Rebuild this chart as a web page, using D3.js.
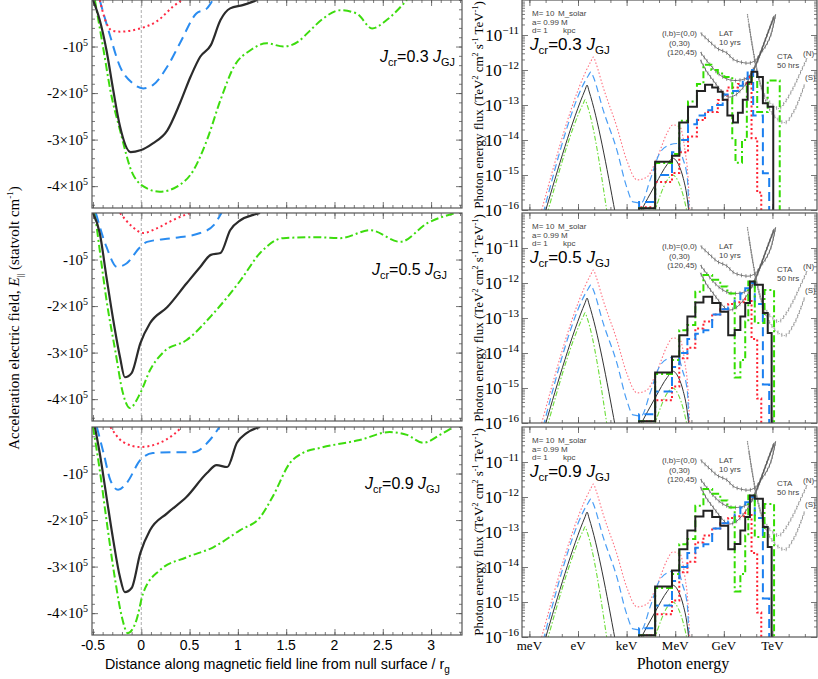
<!DOCTYPE html>
<html lang="en">
<head>
<meta charset="UTF-8">
<script src="https://cdn.jsdelivr.net/npm/d3@7"></script>
<title>E parallel and photon spectra</title>
<style>
  body { margin: 0; background: #fff; }
  svg { display: block; }
  .serif { font-family: "Liberation Serif", "DejaVu Serif", serif; }
  .sans { font-family: "Liberation Sans", "DejaVu Sans", sans-serif; }
</style>
</head>
<body>
<div id="fig"></div>
<script>
// ---------- left column: E_parallel (units of 1e5 statvolt/cm) vs distance / r_g ----------
const jcrValues = ["0.3", "0.5", "0.9"];

const eBlack03 = [[-0.5,0],[-0.43,-0.43],[-0.36,-1.08],[-0.29,-1.94],[-0.22,-2.72],[-0.11,-3.27],[-0.01,-3.23],[0.12,-3.08],[0.27,-2.8],[0.4,-2.22],[0.51,-1.65],[0.61,-1.22],[0.72,-0.97],[0.82,-0.43],[0.92,-0.18],[1.05,-0.11],[1.2,0]];
const eBlue03 = [[-0.43,0],[-0.33,-0.72],[-0.22,-1.43],[-0.09,-1.79],[0.02,-1.9],[0.12,-1.83],[0.27,-1.43],[0.4,-0.93],[0.57,-0.29],[0.68,-0.18],[0.74,0]];
const eRed03 = [[-0.43,0],[-0.36,-0.5],[-0.3,-0.66],[-0.22,-0.68],[-0.01,-0.61],[0.16,-0.46],[0.33,-0.14],[0.42,0]];
const eGreen03 = [[-0.48,0],[-0.39,-1.08],[-0.32,-1.94],[-0.22,-2.8],[-0.09,-3.73],[0.06,-4.05],[0.19,-4.12],[0.37,-4.01],[0.54,-3.66],[0.68,-3.01],[0.82,-2.15],[0.96,-1.43],[1.13,-1.08],[1.3,-0.93],[1.47,-1.0],[1.62,-0.9],[1.75,-0.65],[1.87,-0.42],[2.06,-0.22],[2.23,-0.29],[2.39,-0.61],[2.54,-0.43],[2.75,0]];

const eBlack05 = [[-0.5,0],[-0.43,-0.43],[-0.36,-1.38],[-0.29,-2.3],[-0.22,-3.1],[-0.17,-3.53],[-0.1,-3.44],[-0.01,-2.8],[0.09,-2.37],[0.27,-2.02],[0.47,-1.51],[0.61,-1.16],[0.72,-0.9],[0.82,-0.86],[0.92,-0.37],[1.03,-0.15],[1.16,-0.04],[1.23,0]];
const eBlue05 = [[-0.47,0],[-0.36,-0.73],[-0.25,-1.16],[-0.15,-1.08],[-0.01,-0.73],[0.06,-0.62],[0.33,-0.54],[0.61,-0.43],[0.75,-0.26],[0.83,0]];
const eRed05 = [[-0.22,0],[-0.09,-0.3],[0.02,-0.43],[0.16,-0.33],[0.33,-0.15],[0.5,0]];
const eGreen05 = [[-0.48,0],[-0.43,-0.8],[-0.36,-1.87],[-0.27,-2.95],[-0.19,-3.87],[-0.12,-4.19],[-0.01,-3.87],[0.09,-3.38],[0.23,-2.99],[0.47,-2.73],[0.75,-2.15],[1.03,-1.44],[1.23,-0.86],[1.47,-0.54],[1.82,-0.52],[2.06,-0.54],[2.37,-0.37],[2.68,-0.62],[2.96,-0.22],[3.25,0]];

const eBlack09 = [[-0.48,0],[-0.43,-0.56],[-0.36,-1.5],[-0.29,-2.43],[-0.22,-3.23],[-0.17,-3.55],[-0.1,-3.46],[-0.01,-2.71],[0.09,-2.22],[0.27,-1.85],[0.47,-1.5],[0.68,-0.99],[0.78,-0.82],[0.89,-0.86],[0.99,-0.34],[1.09,-0.13],[1.23,0]];
const eBlue09 = [[-0.46,0],[-0.39,-0.56],[-0.32,-1.14],[-0.24,-1.35],[-0.15,-1.2],[-0.01,-0.71],[0.12,-0.56],[0.33,-0.54],[0.54,-0.54],[0.71,-0.28],[0.81,0]];
const eRed09 = [[-0.32,0],[-0.19,-0.32],[-0.01,-0.43],[0.19,-0.34],[0.33,-0.17],[0.42,0]];
const eGreen09 = [[-0.5,0],[-0.43,-0.92],[-0.36,-2.0],[-0.27,-3.29],[-0.2,-4.09],[-0.14,-4.43],[-0.05,-4.15],[0.02,-3.57],[0.19,-3.08],[0.47,-2.8],[0.75,-2.58],[1.02,-2.22],[1.23,-1.94],[1.36,-1.5],[1.54,-0.77],[1.67,-0.56],[1.85,-0.45],[2.26,-0.28],[2.57,-0.11],[2.75,-0.17],[2.92,-0.34],[3.09,-0.17],[3.23,0]];

const distTicks = [-0.5, 0, 0.5, 1, 1.5, 2, 2.5, 3];
const distTickLabels = ["-0.5", "0", "0.5", "1", "1.5", "2", "2.5", "3"];
const eTicks = [-1, -2, -3, -4];

// ---------- right column: photon spectra, [log10 E/eV, log10 flux] ----------
const energyTicks = [-3, 0, 3, 6, 9, 12];
const energyLabels = ["meV", "eV", "keV", "MeV", "GeV", "TeV"];
const fluxDecades = [-16, -15, -14, -13, -12, -11];

// thin model curves (same in all three panels)
const redThin = [[-2.3,-16.1],[0.8,-11.75],[0.95,-11.63],[1.1,-11.8],[1.55,-12.49],[2.4,-13.63],[3.0,-14.57],[3.65,-15.14],[4.25,-15.06],[4.9,-14.49],[5.5,-13.8],[5.85,-13.57],[6.3,-13.63],[6.6,-14.29],[6.8,-15.14],[6.9,-16.1]];
const blueThin = [[-2.15,-16.1],[0.65,-12.15],[0.8,-12.05],[0.95,-12.2],[1.55,-13.14],[2.4,-14.29],[3.0,-15.34],[3.4,-15.77],[3.9,-15.8],[4.45,-15.14],[5.05,-14.37],[5.65,-14.14],[6.15,-14.1],[6.45,-14.5],[6.75,-15.1],[6.85,-16.1]];
const blackThinA = [[-2.05,-16.1],[0.45,-12.55],[0.56,-12.43],[0.68,-12.6],[2.3,-16.1]];
const blackThinB = [[3.8,-16.1],[4.8,-15.25],[5.5,-14.7],[5.85,-14.52],[6.2,-14.7],[6.5,-15.1],[6.72,-15.6],[6.85,-16.1]];
const greenThinA = [[-1.9,-16.1],[0.33,-12.95],[0.44,-12.85],[0.55,-12.98],[1.8,-16.1]];
const greenThinB = [[4.7,-16.1],[5.1,-15.55],[5.5,-15.15],[5.85,-15.0],[6.2,-15.2],[6.5,-15.6],[6.75,-16.1]];

// thick binned spectra: bin edges and bin values
const blackTopE = [3.77,4.76,5.8,6.25,6.79,7.34,7.84,8.28,8.63,8.93,9.22,9.57,9.87,10.17,10.47,10.71,11.06,11.41,11.71,12.05];
const blackTopF = [-15.95,-14.62,-14.45,-13.5,-13.05,-12.6,-12.42,-12.5,-12.62,-12.85,-13.3,-13.5,-13.22,-12.85,-12.35,-12.05,-12.2,-12.95,-13.05];
const greenTopE = [3.77,4.76,5.8,6.25,6.79,7.34,7.74,8.23,8.63,9.03,9.52,9.72,10.12,10.42,10.71,11.06,11.71,12.45];
const greenTopF = [-15.95,-14.66,-14.4,-13.45,-12.9,-12.4,-11.85,-12.0,-12.1,-12.2,-14.0,-14.65,-14.0,-12.4,-12.2,-13.2,-12.3];
const redTopE = [3.77,4.76,5.8,6.25,6.79,7.34,7.84,8.63,9.22,9.87,10.42,10.71,11.06,11.31];
const redTopF = [-15.92,-15.2,-14.94,-14.35,-13.9,-13.43,-13.2,-12.86,-12.5,-12.4,-12.2,-13.95,-15.5];
const blueTopE = [3.77,4.76,5.8,6.25,6.79,7.34,7.84,8.28,8.93,9.57,9.87,10.17,10.47,10.81,11.41,11.8];
const blueTopF = [-15.77,-15.0,-14.35,-14.0,-13.55,-13.3,-13.15,-13.0,-12.7,-12.6,-12.45,-12.25,-12.0,-13.3,-14.95];

const blackLowE = [3.77,4.76,5.8,6.25,6.75,7.24,7.74,8.28,8.78,9.27,9.67,10.02,10.32,10.61,10.91,11.41,11.71,11.95];
const blackLowF = [-15.95,-14.56,-14.1,-13.49,-12.96,-12.56,-12.39,-12.57,-12.82,-13.49,-13.34,-12.96,-12.57,-11.96,-12.05,-12.86,-13.43];
const greenLowE = [3.77,4.76,5.8,6.25,6.75,7.24,7.74,8.28,8.78,9.22,9.67,10.02,10.32,10.51,10.91,11.51,12.1];
const greenLowF = [-15.95,-14.6,-14.2,-13.35,-13.2,-12.25,-11.77,-11.91,-12.1,-12.3,-14.7,-14.2,-13.1,-11.96,-13.14,-12.2];
const redLowE = [3.77,4.76,5.8,6.25,6.75,7.24,7.74,8.28,8.78,9.27,9.67,10.32,10.71,11.06,11.31];
const redLowF = [-15.95,-15.35,-14.96,-14.15,-13.85,-13.3,-13.1,-12.9,-12.75,-12.6,-12.55,-12.45,-13.6,-15.3];
const blueLowE = [3.77,4.76,5.8,6.25,6.75,7.24,7.74,8.28,8.78,9.27,9.67,10.02,10.32,10.61,10.91,11.41,11.8];
const blueLowF = [-15.75,-15.1,-14.4,-14.0,-13.6,-13.45,-13.35,-12.9,-12.75,-12.7,-12.5,-12.3,-12.15,-12.0,-12.6,-14.9];

// sensitivity curves
const lat00 = [[7.55,-10.94],[8.15,-11.2],[8.65,-11.4],[9.15,-11.5],[9.6,-11.7],[10.1,-11.78],[10.6,-11.8],[11.0,-11.7],[11.3,-11.5],[11.6,-11.3],[11.9,-11.0],[12.2,-10.4]];
const lat030 = [[7.55,-11.49],[8.15,-11.85],[8.65,-12.1],[9.15,-12.25],[9.6,-12.3],[10.1,-12.28],[10.5,-12.2],[10.9,-11.9],[11.3,-11.45],[11.7,-10.95],[12.1,-10.45]];
const lat12045 = [[7.55,-11.71],[7.95,-12.05],[8.35,-12.3],[8.85,-12.6],[9.25,-12.77],[9.7,-12.72],[10.1,-12.55],[10.5,-12.3],[11.0,-11.85],[11.4,-11.35],[11.8,-10.85],[12.1,-10.5]];
const ctaN = [[10.45,-10.4],[10.8,-11.4],[11.1,-12.1],[11.5,-12.7],[12.0,-13.0],[12.4,-13.1],[12.8,-12.9],[13.3,-12.5],[13.8,-12.0],[14.15,-11.65]];
const ctaS = [[10.55,-10.7],[10.9,-11.7],[11.3,-12.5],[11.8,-13.1],[12.3,-13.4],[12.8,-13.5],[13.3,-13.2],[13.6,-12.9],[14.0,-12.4]];

// ---------------------------------------------------------------------------------------
const svg = d3.select("#fig").append("svg").attr("width", 818).attr("height", 679);

const xL = d3.scaleLinear().domain([-0.51, 3.32]).range([92, 462]);
const xR = d3.scaleLog().domain([10 ** -3.457, 10 ** 14.75]).range([522, 817]);

const frameColor = "#555";

const addTicks = (g, axis, tr) => {
    g.append("g").attr("transform", tr).call(axis)
        .call(s => s.select(".domain").remove())
        .call(s => s.selectAll("line").attr("stroke", frameColor).attr("stroke-width", 0.8));
};

// text with a raised/lowered part
const richText = (g, x, y, parts, opts) => {
    const t = g.append("text").attr("x", x).attr("y", y)
        .attr("class", opts.cls).attr("font-size", opts.size)
        .attr("text-anchor", opts.anchor || "start").attr("fill", opts.fill || "#000");
    if (opts.rotate) t.attr("transform", `rotate(${opts.rotate},${x},${y})`);
    let shift = 0;
    parts.forEach(p => {
        const s = t.append("tspan").text(p.t);
        const want = p.dy || 0;
        if (want !== shift) { s.attr("dy", want - shift); shift = want; }
        if (p.size) s.attr("font-size", p.size);
        if (p.italic) s.attr("font-style", "italic");
    });
    return t;
};

const jLabel = (g, x, y, val, size) => {
    richText(g, x, y, [
        {t: "J", italic: true},
        {t: "cr", dy: 4, size: size * 0.68},
        {t: "=" + val + " "},
        {t: "J", italic: true},
        {t: "GJ", dy: 4, size: size * 0.68}
    ], {cls: "sans", size: size});
};

// ---------------- left column ----------------
const leftPanels = [
    {top: 0, bottom: 208, jx: 380, black: eBlack03, blue: eBlue03, red: eRed03, green: eGreen03},
    {top: 213, bottom: 421, jx: 372, black: eBlack05, blue: eBlue05, red: eRed05, green: eGreen05},
    {top: 427, bottom: 635, jx: 365, black: eBlack09, blue: eBlue09, red: eRed09, green: eGreen09}
];

leftPanels.forEach((p, i) => {
    const y = d3.scaleLinear().domain([-4.47, 0]).range([p.bottom, p.top]);
    const g = svg.append("g");
    const clipId = "clipL" + i;
    svg.append("clipPath").attr("id", clipId).append("rect")
        .attr("x", xL.range()[0]).attr("y", p.top)
        .attr("width", xL.range()[1] - xL.range()[0]).attr("height", p.bottom - p.top);

    const minorX = d3.range(-5, 34).map(k => k / 10);
    const minorY = d3.range(-22, 1).map(k => k / 5);
    addTicks(g, d3.axisBottom(xL).tickValues(minorX).tickSize(-3).tickFormat(""), `translate(0,${p.bottom})`);
    addTicks(g, d3.axisBottom(xL).tickValues(distTicks).tickSize(-6).tickFormat(""), `translate(0,${p.bottom})`);
    addTicks(g, d3.axisTop(xL).tickValues(minorX).tickSize(-3).tickFormat(""), `translate(0,${p.top})`);
    addTicks(g, d3.axisTop(xL).tickValues(distTicks).tickSize(-6).tickFormat(""), `translate(0,${p.top})`);
    addTicks(g, d3.axisLeft(y).tickValues(minorY).tickSize(-3).tickFormat(""), `translate(${xL.range()[0]},0)`);
    addTicks(g, d3.axisLeft(y).tickValues(eTicks).tickSize(-6).tickFormat(""), `translate(${xL.range()[0]},0)`);
    addTicks(g, d3.axisRight(y).tickValues(minorY).tickSize(-3).tickFormat(""), `translate(${xL.range()[1]},0)`);
    addTicks(g, d3.axisRight(y).tickValues(eTicks).tickSize(-6).tickFormat(""), `translate(${xL.range()[1]},0)`);

    // null surface marker
    g.append("line").attr("x1", xL(0)).attr("x2", xL(0)).attr("y1", p.top).attr("y2", p.bottom)
        .attr("stroke", "#999").attr("stroke-width", 0.8).attr("stroke-dasharray", "3,2");

    const line = d3.line().x(d => xL(d[0])).y(d => y(d[1])).curve(d3.curveMonotoneX);
    const curves = g.append("g").attr("clip-path", `url(#${clipId})`).attr("fill", "none");
    curves.append("path").attr("d", line(p.green)).attr("stroke", "#3ddc0e").attr("stroke-width", 2)
        .attr("stroke-dasharray", "8,3,2,3");
    curves.append("path").attr("d", line(p.blue)).attr("stroke", "#2a8cf0").attr("stroke-width", 2)
        .attr("stroke-dasharray", "10,6");
    curves.append("path").attr("d", line(p.red)).attr("stroke", "#ff2a44").attr("stroke-width", 2)
        .attr("stroke-dasharray", "2,3");
    curves.append("path").attr("d", line(p.black)).attr("stroke", "#2b2b2b").attr("stroke-width", 2.2);

    g.append("rect").attr("x", xL.range()[0]).attr("y", p.top)
        .attr("width", xL.range()[1] - xL.range()[0]).attr("height", p.bottom - p.top)
        .attr("fill", "none").attr("stroke", frameColor).attr("stroke-width", 1.2);

    eTicks.forEach(v => {
        const k = -v;
        richText(g, 88, y(v) + 5, [
            {t: "-" + (k > 1 ? k + "×" : "") + "10"},
            {t: "5", dy: -6, size: 10}
        ], {cls: "serif", size: 15, anchor: "end"});
    });

    jLabel(g, p.jx, p.top + 62, jcrValues[i], 16);

    if (i === leftPanels.length - 1) {
        distTicks.forEach((v, k) => {
            g.append("text").attr("class", "sans").attr("font-size", 14).attr("text-anchor", "middle")
                .attr("x", xL(v)).attr("y", 650).text(distTickLabels[k]);
        });
    }
});

richText(svg, 105, 669, [
    {t: "Distance along magnetic field line from null surface / r"},
    {t: "g", dy: 4, size: 10}
], {cls: "sans", size: 14.3});

richText(svg, 19, 318, [
    {t: "Acceleration electric field, "},
    {t: "E", italic: true},
    {t: "||", dy: 4, size: 9},
    {t: " (statvolt cm"},
    {t: "-1", dy: -6, size: 9},
    {t: ")"}
], {cls: "serif", size: 15, anchor: "middle", rotate: -90});

// ---------------- right column ----------------
const rightPanels = [
    {top: 0, bottom: 210, black: [blackTopE, blackTopF], green: [greenTopE, greenTopF], red: [redTopE, redTopF], blue: [blueTopE, blueTopF]},
    {top: 213, bottom: 423, black: [blackLowE, blackLowF], green: [greenLowE, greenLowF], red: [redLowE, redLowF], blue: [blueLowE, blueLowF]},
    {top: 427, bottom: 637, black: [blackLowE, blackLowF], green: [greenLowE, greenLowF], red: [redLowE, redLowF], blue: [blueLowE, blueLowF]}
];

const minorFlux = [];
fluxDecades.forEach(k => d3.range(2, 10).forEach(m => minorFlux.push(m * 10 ** k)));
const decadeE = d3.range(-3, 15).map(k => 10 ** k);

rightPanels.forEach((p, i) => {
    const y = d3.scaleLog().domain([1e-16, 1e-10]).range([p.bottom, p.top]);
    const g = svg.append("g");
    const clipId = "clipR" + i;
    const x0 = xR.range()[0], x1 = xR.range()[1];
    svg.append("clipPath").attr("id", clipId).append("rect")
        .attr("x", x0).attr("y", p.top).attr("width", x1 - x0).attr("height", p.bottom - p.top);

    addTicks(g, d3.axisBottom(xR).tickValues(decadeE).tickSize(-3).tickFormat(""), `translate(0,${p.bottom})`);
    addTicks(g, d3.axisBottom(xR).tickValues(energyTicks.map(k => 10 ** k)).tickSize(-6).tickFormat(""), `translate(0,${p.bottom})`);
    addTicks(g, d3.axisTop(xR).tickValues(decadeE).tickSize(-3).tickFormat(""), `translate(0,${p.top})`);
    addTicks(g, d3.axisTop(xR).tickValues(energyTicks.map(k => 10 ** k)).tickSize(-6).tickFormat(""), `translate(0,${p.top})`);
    const majF = fluxDecades.map(k => 10 ** k);
    addTicks(g, d3.axisLeft(y).tickValues(minorFlux).tickSize(-3).tickFormat(""), `translate(${x0},0)`);
    addTicks(g, d3.axisLeft(y).tickValues(majF).tickSize(-6).tickFormat(""), `translate(${x0},0)`);
    addTicks(g, d3.axisRight(y).tickValues(minorFlux).tickSize(-3).tickFormat(""), `translate(${x1},0)`);
    addTicks(g, d3.axisRight(y).tickValues(majF).tickSize(-6).tickFormat(""), `translate(${x1},0)`);

    const line = d3.line().x(d => xR(10 ** d[0])).y(d => y(10 ** d[1]));
    const smooth = line.curve(d3.curveMonotoneX);
    const curves = g.append("g").attr("clip-path", `url(#${clipId})`).attr("fill", "none");

    // thin model curves
    curves.append("path").attr("d", smooth(redThin)).attr("stroke", "#ff6f7f").attr("stroke-width", 1.1).attr("stroke-dasharray", "1.5,2");
    curves.append("path").attr("d", smooth(blueThin)).attr("stroke", "#4a9ef5").attr("stroke-width", 1.2).attr("stroke-dasharray", "7,4");
    curves.append("path").attr("d", smooth(greenThinA)).attr("stroke", "#6ddd3a").attr("stroke-width", 1.1).attr("stroke-dasharray", "5,2,1.5,2");
    curves.append("path").attr("d", smooth(greenThinB)).attr("stroke", "#6ddd3a").attr("stroke-width", 1.1).attr("stroke-dasharray", "5,2,1.5,2");
    curves.append("path").attr("d", smooth(blackThinA)).attr("stroke", "#333").attr("stroke-width", 1);
    curves.append("path").attr("d", smooth(blackThinB)).attr("stroke", "#333").attr("stroke-width", 1);

    // sensitivity curves with small bars
    const sens = [
        {d: lat00, c: "#555", dash: null},
        {d: lat030, c: "#555", dash: null},
        {d: lat12045, c: "#555", dash: null},
        {d: ctaN, c: "#777", dash: "1,1.5"},
        {d: ctaS, c: "#777", dash: "1,1.5"}
    ];
    const sensLine = d3.line().x(d => xR(10 ** d[0])).y(d => y(10 ** d[1])).curve(d3.curveCatmullRom);
    sens.forEach(s => {
        const path = curves.append("path").attr("d", sensLine(s.d)).attr("stroke", s.c).attr("stroke-width", 0.8);
        if (s.dash) path.attr("stroke-dasharray", s.dash);
        const node = path.node();
        const len = node.getTotalLength();
        for (let l = 2; l < len; l += 4.5) {
            const pt = node.getPointAtLength(l);
            curves.append("line").attr("x1", pt.x).attr("x2", pt.x).attr("y1", pt.y - 2).attr("y2", pt.y + 2)
                .attr("stroke", s.c).attr("stroke-width", 0.6);
        }
    });

    // thick binned spectra
    const floor = -16.4;
    const steps = ([edges, vals]) => [[edges[0], floor]].concat(edges.map((e, k) => [e, k < vals.length ? vals[k] : floor]));
    const stepLine = d3.line().x(d => xR(10 ** d[0])).y(d => y(10 ** d[1])).curve(d3.curveStepAfter);
    curves.append("path").attr("d", stepLine(steps(p.red))).attr("stroke", "#ff2030").attr("stroke-width", 2).attr("stroke-dasharray", "2,2.5");
    curves.append("path").attr("d", stepLine(steps(p.blue))).attr("stroke", "#1a7ff0").attr("stroke-width", 2).attr("stroke-dasharray", "9,5");
    curves.append("path").attr("d", stepLine(steps(p.green))).attr("stroke", "#33dd00").attr("stroke-width", 2).attr("stroke-dasharray", "7,3,2,3");
    curves.append("path").attr("d", stepLine(steps(p.black))).attr("stroke", "#222").attr("stroke-width", 2);

    g.append("rect").attr("x", x0).attr("y", p.top).attr("width", x1 - x0).attr("height", p.bottom - p.top)
        .attr("fill", "none").attr("stroke", frameColor).attr("stroke-width", 1.2);

    fluxDecades.forEach(k => {
        richText(g, 519, y(10 ** k) + 6, [
            {t: "10"},
            {t: "\u2212" + (-k), dy: -7, size: 11}
        ], {cls: "serif", size: 17, anchor: "end"});
    });

    richText(g, 483, (p.top + p.bottom) / 2, [
        {t: "Photon energy flux (TeV"},
        {t: "2", dy: -5, size: 8},
        {t: " cm"},
        {t: "2", dy: -5, size: 8},
        {t: " s"},
        {t: "-1", dy: -5, size: 8},
        {t: " TeV"},
        {t: "-1", dy: -5, size: 8},
        {t: ")"}
    ], {cls: "serif", size: 13, anchor: "middle", rotate: -90});

    // annotations
    const note = (x, yy, txt, anchor) => g.append("text").attr("class", "sans").attr("font-size", 8)
        .attr("fill", "#444").attr("text-anchor", anchor || "start").attr("x", x).attr("y", p.top + yy).text(txt);
    note(532, 16, "M= 10"); note(558, 16, "M_solar");
    note(532, 25, "a=  0.99"); note(561, 25, "M");
    note(532, 33, "d=  1"); note(563, 33, "kpc");
    note(697, 36, "(l,b)=(0,0)", "end");
    note(690, 46, "(0,30)", "end");
    note(697, 55, "(120,45)", "end");
    note(719, 36, "LAT"); note(719, 45, "10  yrs");
    note(777, 59, "CTA"); note(777, 68, "50  hrs");
    note(803, 56, "(N)"); note(805, 80, "(S)");

    jLabel(g, 530, p.top + 50, jcrValues[i], 17);

    if (i === rightPanels.length - 1) {
        energyTicks.forEach((k, n) => {
            g.append("text").attr("class", "serif").attr("font-size", 13).attr("text-anchor", "middle")
                .attr("x", xR(10 ** k)).attr("y", 650).text(energyLabels[n]);
        });
    }
});

svg.append("text").attr("class", "serif").attr("font-size", 16).attr("text-anchor", "middle")
    .attr("x", 683).attr("y", 669).text("Photon energy");
</script>
</body>
</html>
